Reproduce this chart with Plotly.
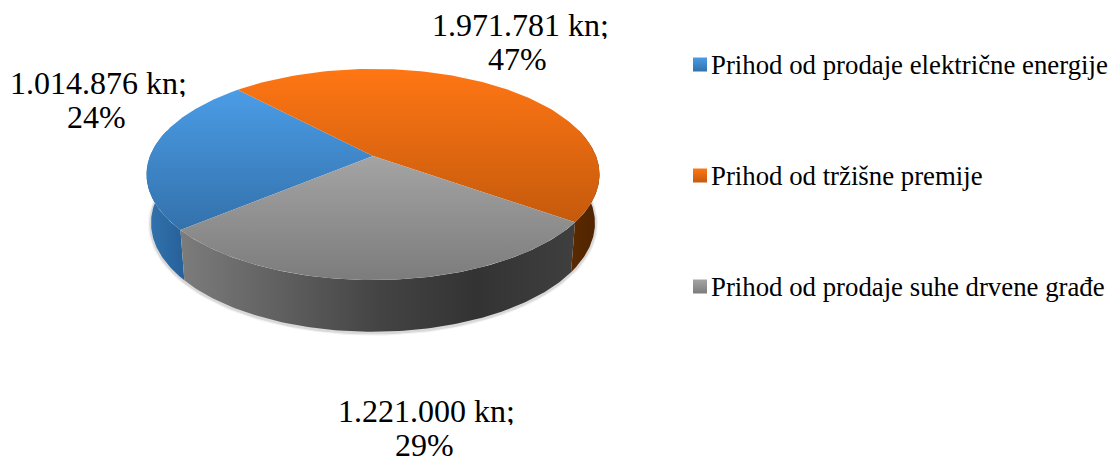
import math
import plotly.graph_objects as go

categories = ["Prihod od prodaje električne energije", "Prihod od tržišne premije", "Prihod od prodaje suhe drvene građe"]
values = [1014876, 1971781, 1221000]

W, H = 1112, 461
CX, CY = 373, 156          # pie centre on the page
A, C, K = 223, 102.3, 0.1753   # perspective of the disc
DEPTH, SHRINK_X, GROW_Y = 48, 0.98, 1.03   # wall height and the bottom rim's scale
START = 220.0              # angle where the first slice starts

TOP = [["#4b9ce6", "#3371ab"], ["#ff7614", "#c55a0c"], ["#a4a4a4", "#7c7c7c"]]
WALL = [
    [[0, "#3274ad"], [1, "#27609a"]],
    [[0, "#7c7c7c"], [0.5, "#444444"], [0.75, "#333333"], [1, "#3f3f3f"]],
    [[0, "#5a2a02"], [1, "#4f2400"]],
]

def proj(deg, bottom=False):
    t = math.radians(deg)
    w = 1 + K * math.sin(t)
    sx = SHRINK_X if bottom else 1.0
    sy = GROW_Y if bottom else 1.0
    return CX + sx * A * math.cos(t) / w, CY + (DEPTH if bottom else 0) - sy * C * math.sin(t) / w

def arc(a0, a1, bottom=False, n=120):
    pts = [proj(a0 + (a1 - a0) * i / n, bottom) for i in range(n + 1)]
    return [p[0] for p in pts], [p[1] for p in pts]

total = sum(values)
spans = [v / total * 360 for v in values]
blue = (START, START - spans[0])
orange = (blue[1], blue[1] - spans[1])
gray = (orange[1], orange[1] - spans[2])
slices = [blue, orange, gray]

fig = go.Figure()

# soft shadow under the wall
for width, alpha in [(6, 0.05), (3.5, 0.10)]:
    x, y = arc(178, 362, bottom=True)
    fig.add_trace(go.Scatter(x=x, y=[v + 1 for v in y], mode="lines", hoverinfo="skip", showlegend=False,
                             line=dict(color=f"rgba(0,0,0,{alpha})", width=width)))

# walls: the part of each slice's rim that faces the viewer
walls = [(START, 165.0), (gray[1], gray[0]), (gray[0], 15.0)]
for (a0, a1), scale in zip(walls, WALL):
    x1, y1 = arc(a0, a1)
    x2, y2 = arc(a1, a0, bottom=True)
    fig.add_trace(go.Scatter(x=x1 + x2, y=y1 + y2, mode="lines", fill="toself", hoverinfo="skip", showlegend=False,
                             line=dict(width=0, color="rgba(0,0,0,0)"),
                             fillgradient=dict(type="horizontal", colorscale=scale)))

# top faces (the y axis runs downwards, so the gradient stops are given bottom first)
for (a0, a1), (c0, c1), name in zip(slices, TOP, categories):
    x, y = arc(a0, a1)
    fig.add_trace(go.Scatter(x=[CX] + x + [CX], y=[CY] + y + [CY], mode="lines", fill="toself", name=name,
                             hoverinfo="name", showlegend=False, line=dict(width=0, color="rgba(0,0,0,0)"),
                             fillgradient=dict(type="vertical", colorscale=[[0, c1], [1, c0]])))

def kn(v):
    return f"{v:,}".replace(",", ".") + " kn;"

LABELS = [((98, 83), (96, 117)), ((520, 25), (517, 59)), ((426, 411), (424, 445))]
annotations = []
for v, (p1, p2) in zip(values, LABELS):
    for (px, py), txt in ((p1, kn(v)), (p2, f"{round(v / total * 100)}%")):
        annotations.append(dict(x=px, y=py, text=txt, showarrow=False, xanchor="center", yanchor="middle", height=28,
                                font=dict(family="Liberation Serif", size=32, color="#000000")))

LEG_Y = [64.5, 175.5, 286.5]
for name, (c0, c1), ly in zip(categories, TOP, LEG_Y):
    fig.add_trace(go.Scatter(x=[700], y=[ly], mode="markers", hoverinfo="skip", showlegend=False,
                             marker=dict(symbol="square", size=14, color=c0, line=dict(width=0),
                                         gradient=dict(type="vertical", color=c1))))
    annotations.append(dict(x=709, y=ly, text=name, showarrow=False, xanchor="left", yanchor="middle",
                            font=dict(family="Liberation Serif", size=26.8, color="#000000")))

fig.update_layout(
    width=W, height=H, margin=dict(l=0, r=0, t=0, b=0), autosize=False,
    paper_bgcolor="#ffffff", plot_bgcolor="#ffffff", showlegend=False,
    xaxis=dict(range=[0, W], visible=False, fixedrange=True),
    yaxis=dict(range=[H, 0], visible=False, fixedrange=True),
    annotations=annotations,
)
fig.write_html("out.html", config=dict(displayModeBar=False),
               post_script="document.body.style.margin='0';document.documentElement.style.overflow='hidden';")
